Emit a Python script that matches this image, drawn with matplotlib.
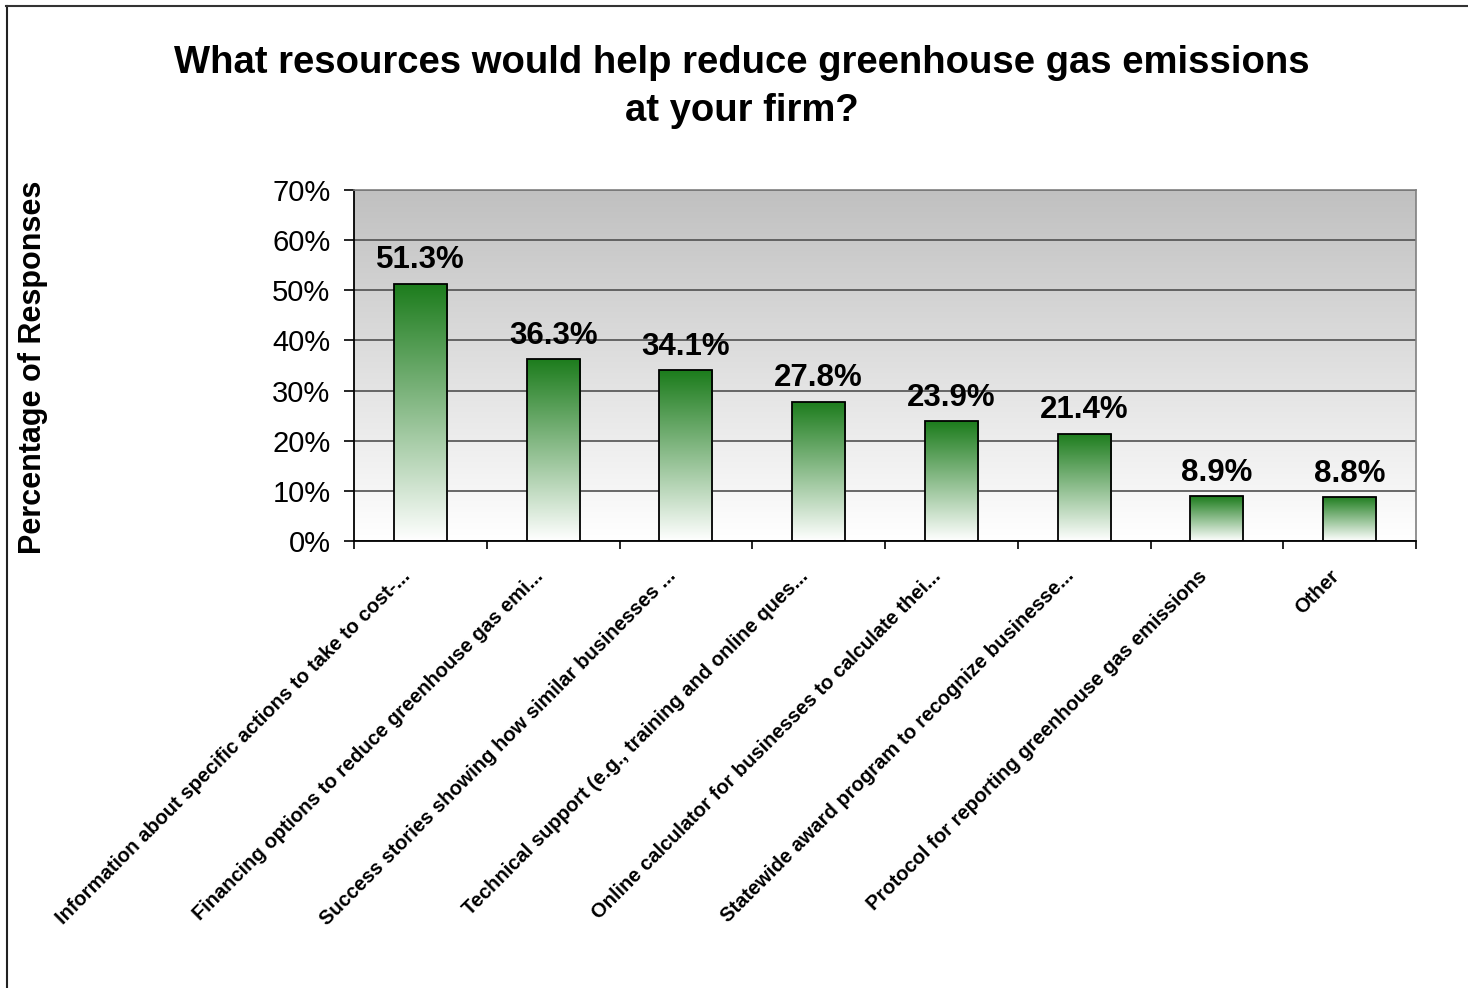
import numpy as np
import matplotlib
matplotlib.use("Agg")
import matplotlib.pyplot as plt
from matplotlib.colors import LinearSegmentedColormap
from matplotlib.transforms import ScaledTranslation
from matplotlib.lines import Line2D

plt.rcParams['font.family'] = ['Liberation Sans', 'DejaVu Sans']

# Survey data
categories = [
    "Information about specific actions to take to cost-...",
    "Financing options to reduce greenhouse gas emi...",
    "Success stories showing how similar businesses ...",
    "Technical support (e.g., training and online ques...",
    "Online calculator for businesses to calculate thei...",
    "Statewide award program to recognize businesse...",
    "Protocol for reporting greenhouse gas emissions",
    "Other",
]
percentages = [51.3, 36.3, 34.1, 27.8, 23.9, 21.4, 8.9, 8.8]
y_ticks = [0, 10, 20, 30, 40, 50, 60, 70]
y_tick_labels = [f"{v}%" for v in y_ticks]

W, H = 1468, 988
fig = plt.figure(figsize=(W / 100, H / 100), dpi=100)
ax = fig.add_axes([354 / W, 1 - 541 / H, (1416 - 354) / W, (541 - 190) / H])

# gray-to-white background of the plot area
bg_cmap = LinearSegmentedColormap.from_list("bg", ["#ffffff", "#c0c0c0"])
grad = np.linspace(0, 1, 256).reshape(-1, 1)
ax.imshow(grad, extent=[0, 1, 0, 1], transform=ax.transAxes, origin="lower",
          aspect="auto", cmap=bg_cmap, zorder=0)

x = np.arange(len(categories))
bars = ax.bar(x, percentages, width=0.4, facecolor="none", edgecolor="black",
              linewidth=1.3, zorder=3)

# green-to-white gradient in every bar
bar_cmap = LinearSegmentedColormap.from_list("bar", ["#ffffff", "#1c7c1c"])
for b in bars:
    x0 = b.get_x()
    im = ax.imshow(grad, extent=[x0, x0 + b.get_width(), 0, b.get_height()],
                   origin="lower", aspect="auto", cmap=bar_cmap, zorder=2)
    im.set_clip_path(b)

for xi, v in zip(x, percentages):
    ax.annotate(f"{v}%", (xi, v), xytext=(0, 11), textcoords="offset points",
                ha="center", va="baseline", fontsize=22.5, fontweight="bold")

ax.set_xlim(-0.5, len(categories) - 0.5)
ax.set_ylim(0, 70)

# gridlines
ax.set_yticks(y_ticks)
ax.set_yticklabels(y_tick_labels, fontsize=21)
ax.yaxis.grid(True, color="#505050", linewidth=1.2, zorder=1)
ax.set_axisbelow(True)
ax.tick_params(axis="y", direction="out", length=7, width=1.2, pad=10)

# category ticks at boundaries, labels at centers
ax.set_xticks(x)
ax.set_xticklabels(categories, rotation=45, ha="right", va="center",
                   rotation_mode="anchor", fontsize=14.5, fontweight="bold")
ax.set_xticks(np.arange(len(categories) + 1) - 0.5, minor=True)
ax.tick_params(axis="x", which="major", length=0, pad=0)
ax.tick_params(axis="x", which="minor", direction="out", length=6, width=1.2)
for lbl in ax.get_xticklabels():
    lbl.set_transform(lbl.get_transform() + ScaledTranslation(-0.13, -0.32, fig.dpi_scale_trans))

for side in ["left", "bottom"]:
    ax.spines[side].set_color("black")
    ax.spines[side].set_linewidth(1.3)
for side in ["top", "right"]:
    ax.spines[side].set_color("#808080")
    ax.spines[side].set_linewidth(1.2)

fig.text(742 / W, 1 - 87 / H, "What resources would help reduce greenhouse gas emissions\nat your firm?",
         ha="center", va="center", fontsize=27.5, fontweight="bold", linespacing=1.45)
fig.text(33 / W, 1 - 367 / H, "Percentage of Responses", rotation=90, ha="center",
         va="center", fontsize=22, fontweight="bold")

# outer border (left and top edges only visible)
fig.add_artist(Line2D([6.5 / W, 6.5 / W], [0, 1 - 6 / H], color="#222222", linewidth=1.5))
fig.add_artist(Line2D([6 / W, 1], [1 - 6 / H, 1 - 6 / H], color="#333333", linewidth=1.5))

fig.savefig("out.png", dpi=100)
